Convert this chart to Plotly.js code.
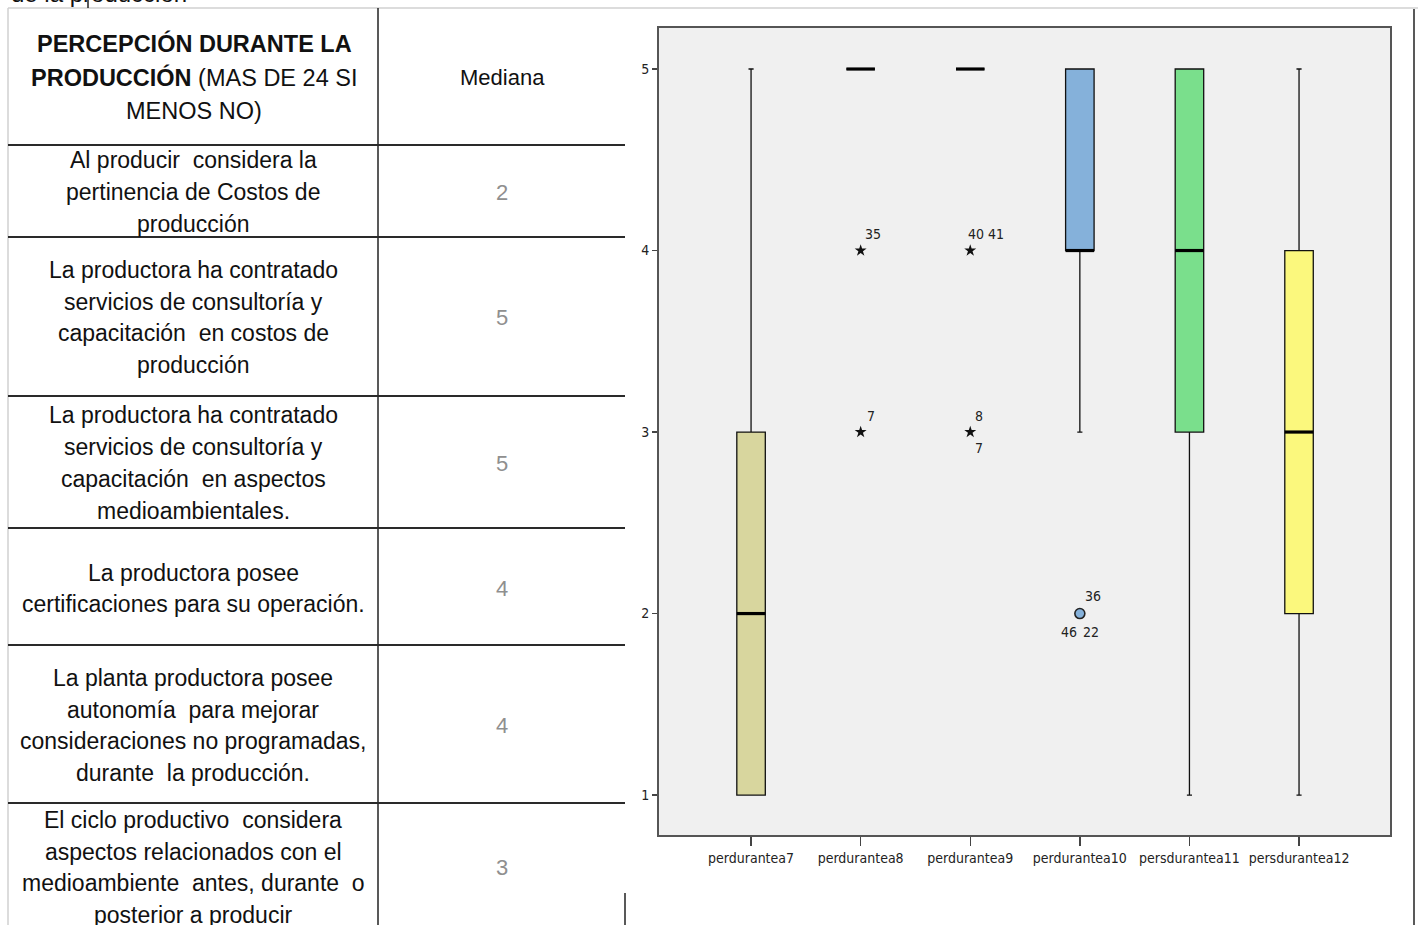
<!DOCTYPE html>
<html>
<head>
<meta charset="utf-8">
<script src="https://cdn.plot.ly/plotly-3.0.1.min.js"></script>
<style>
html,body{margin:0;padding:0;background:#fff;}
#chart{width:1418px;height:925px;}
</style>
</head>
<body>
<div id="chart"></div>
<script>
// ---------- DATA ----------
const headerLines = ["<b>PERCEPCIÓN DURANTE LA</b>", "<b>PRODUCCIÓN</b> (MAS DE 24 SI", "MENOS NO)"];
const medianHeader = "Mediana";
const itemLines = [
  ["Al producir  considera la", "pertinencia de Costos de", "producción"],
  ["La productora ha contratado", "servicios de consultoría y", "capacitación  en costos de", "producción"],
  ["La productora ha contratado", "servicios de consultoría y", "capacitación  en aspectos", "medioambientales."],
  ["La productora posee", "certificaciones para su operación."],
  ["La planta productora posee", "autonomía  para mejorar", "consideraciones no programadas,", "durante  la producción."],
  ["El ciclo productivo  considera", "aspectos relacionados con el", "medioambiente  antes, durante  o", "posterior a producir"]
];
const itemMedians = [2, 5, 5, 4, 4, 3];
const topText = "de la producción";

const variables = ["perdurantea7", "perdurantea8", "perdurantea9", "perdurantea10", "persdurantea11", "persdurantea12"];
const lowerWhisker = [1, 5, 5, 3, 1, 1];
const q1Values = [1, 5, 5, 4, 3, 2];
const medianValues = [2, 5, 5, 4, 4, 3];
const q3Values = [3, 5, 5, 5, 5, 4];
const upperWhisker = [5, 5, 5, 5, 5, 5];

const outlierVar = [1, 1, 2, 2, 3];
const outlierValue = [4, 3, 4, 3, 2];
const outlierKind = ["extreme", "extreme", "extreme", "extreme", "outlier"];
const outlierCaseLabels = [["35"], ["7"], ["40 41"], ["8", "7"], ["36", "46", "22"]];

// ---------- STYLE ----------
const W = 1418, H = 925;
const px = x => x / W;
const py = y => 1 - y / H;
const boxColors = ["#d8d69e", "#f0f0f0", "#f0f0f0", "#85b1da", "#7adf8c", "#fbf87d"];
const boxWidth = 0.26;
const labelOffsets = [[[12, -17]], [[10, -16]], [[16, -17]], [[9, -16], [9, 16]], [[13, -18], [-11, 18], [11, 18]]];
const narrow = "Liberation Sans Narrow, Arial Narrow, DejaVu Sans Condensed, sans-serif";
const tableFont = "Liberation Sans, Arial, sans-serif";

const traces = [];
variables.forEach((v, i) => {
  traces.push({
    type: "box", x: [i], q1: [q1Values[i]], median: [medianValues[i]], q3: [q3Values[i]],
    lowerfence: [lowerWhisker[i]], upperfence: [upperWhisker[i]],
    width: boxWidth, whiskerwidth: 0.18, boxpoints: false,
    fillcolor: boxColors[i], line: {color: "#111", width: 1.3},
    showlegend: false, hoverinfo: "skip"
  });
});
// thick median lines
const mx = [], my = [];
medianValues.forEach((m, i) => { mx.push(i - boxWidth / 2, i + boxWidth / 2, null); my.push(m, m, null); });
traces.push({type: "scatter", mode: "lines", x: mx, y: my, line: {color: "#000", width: 3.2}, showlegend: false, hoverinfo: "skip"});
// outliers
const ext = outlierKind.map((k, j) => k === "extreme" ? j : -1).filter(j => j >= 0);
const out = outlierKind.map((k, j) => k === "outlier" ? j : -1).filter(j => j >= 0);
traces.push({type: "scatter", mode: "markers", x: ext.map(j => outlierVar[j]), y: ext.map(j => outlierValue[j]),
  marker: {symbol: "star", size: 9, color: "#111", line: {width: 0}}, showlegend: false, hoverinfo: "skip"});
traces.push({type: "scatter", mode: "markers", x: out.map(j => outlierVar[j]), y: out.map(j => outlierValue[j]),
  marker: {symbol: "circle", size: 10, color: "#85b1da", line: {color: "#222", width: 1.6}}, showlegend: false, hoverinfo: "skip"});

const annotations = [];
outlierCaseLabels.forEach((labels, j) => {
  labels.forEach((t, k) => {
    annotations.push({xref: "x", yref: "y", x: outlierVar[j], y: outlierValue[j], text: t, showarrow: false,
      xanchor: "center", yanchor: "middle",
      xshift: labelOffsets[j][k][0], yshift: -labelOffsets[j][k][1],
      font: {family: narrow, size: 14, color: "#222"}});
  });
});

// table text
const lineGap = 31.7;
const rowCenters = [192, 317.5, 463, 588.5, 725.5, 867.5];
const cellText = (x, y, t, color, size) => ({xref: "paper", yref: "paper", x: px(x), y: py(y), text: t,
  showarrow: false, xanchor: "center", yanchor: "middle", font: {family: tableFont, size: size || 23, color: color}});
headerLines.forEach((t, k) => annotations.push(cellText(194, 44 + k * 33.5, t, "#111", 23.5)));
annotations.push(cellText(502, 77, medianHeader, "#111", 22));
itemLines.forEach((lines, r) => {
  const n = lines.length;
  lines.forEach((t, k) => annotations.push(cellText(193, rowCenters[r] + (k - (n - 1) / 2) * lineGap, t, "#111")));
  annotations.push(cellText(502, rowCenters[r], String(itemMedians[r]), "#8f8f8f", 22));
});
annotations.push({xref: "paper", yref: "paper", x: px(10), y: py(8), xanchor: "left", yanchor: "bottom",
  text: topText, showarrow: false, borderpad: 0, font: {family: tableFont, size: 24, color: "#111"}});

const dark = {color: "#2a2a2a", width: 2};
const shapes = [
  {type: "line", xref: "paper", yref: "paper", x0: px(8), x1: 1, y0: py(8), y1: py(8), line: {color: "#d0d0d0", width: 1.5}},
  {type: "line", xref: "paper", yref: "paper", x0: px(8), x1: px(8), y0: py(8), y1: 0, line: {color: "#d0d0d0", width: 1.5}},
  {type: "line", xref: "paper", yref: "paper", x0: px(378), x1: px(378), y0: py(8), y1: 0, line: {color: "#222", width: 1.5}},
  {type: "line", xref: "paper", yref: "paper", x0: px(88), x1: px(88), y0: 1, y1: py(8), line: {color: "#222", width: 1.5}},
  {type: "line", xref: "paper", yref: "paper", x0: px(625), x1: px(625), y0: py(893), y1: 0, line: {color: "#222", width: 1.5}},
  {type: "line", xref: "paper", yref: "paper", x0: px(1414), x1: px(1414), y0: py(9), y1: 0, line: {color: "#222", width: 1.5}}
];
[145, 237, 396, 528, 645, 803].forEach(y => {
  shapes.push({type: "line", xref: "paper", yref: "paper", x0: px(8), x1: px(625), y0: py(y), y1: py(y), line: dark});
});

const layout = {
  width: W, height: H, margin: {l: 0, r: 0, t: 0, b: 0}, paper_bgcolor: "#fff", plot_bgcolor: "#f0f0f0",
  showlegend: false,
  xaxis: {domain: [px(659), px(1390)], range: [-0.84, 5.83], tickvals: [0, 1, 2, 3, 4, 5], ticktext: variables,
    ticks: "outside", ticklen: 9, tickcolor: "#444", tickwidth: 1.5, showgrid: false, zeroline: false,
    showline: true, mirror: true, linecolor: "#555", linewidth: 2, tickfont: {family: narrow, size: 14, color: "#222"}},
  yaxis: {domain: [py(835), py(28)], range: [0.78, 5.226], tickvals: [1, 2, 3, 4, 5],
    ticks: "outside", ticklen: 5, tickcolor: "#444", tickwidth: 1.5, showgrid: false, zeroline: false,
    showline: true, mirror: true, linecolor: "#555", linewidth: 2, tickfont: {family: narrow, size: 14, color: "#222"}},
  annotations: annotations, shapes: shapes
};
Plotly.newPlot("chart", traces, layout, {displayModeBar: false, staticPlot: true});
</script>
</body>
</html>
